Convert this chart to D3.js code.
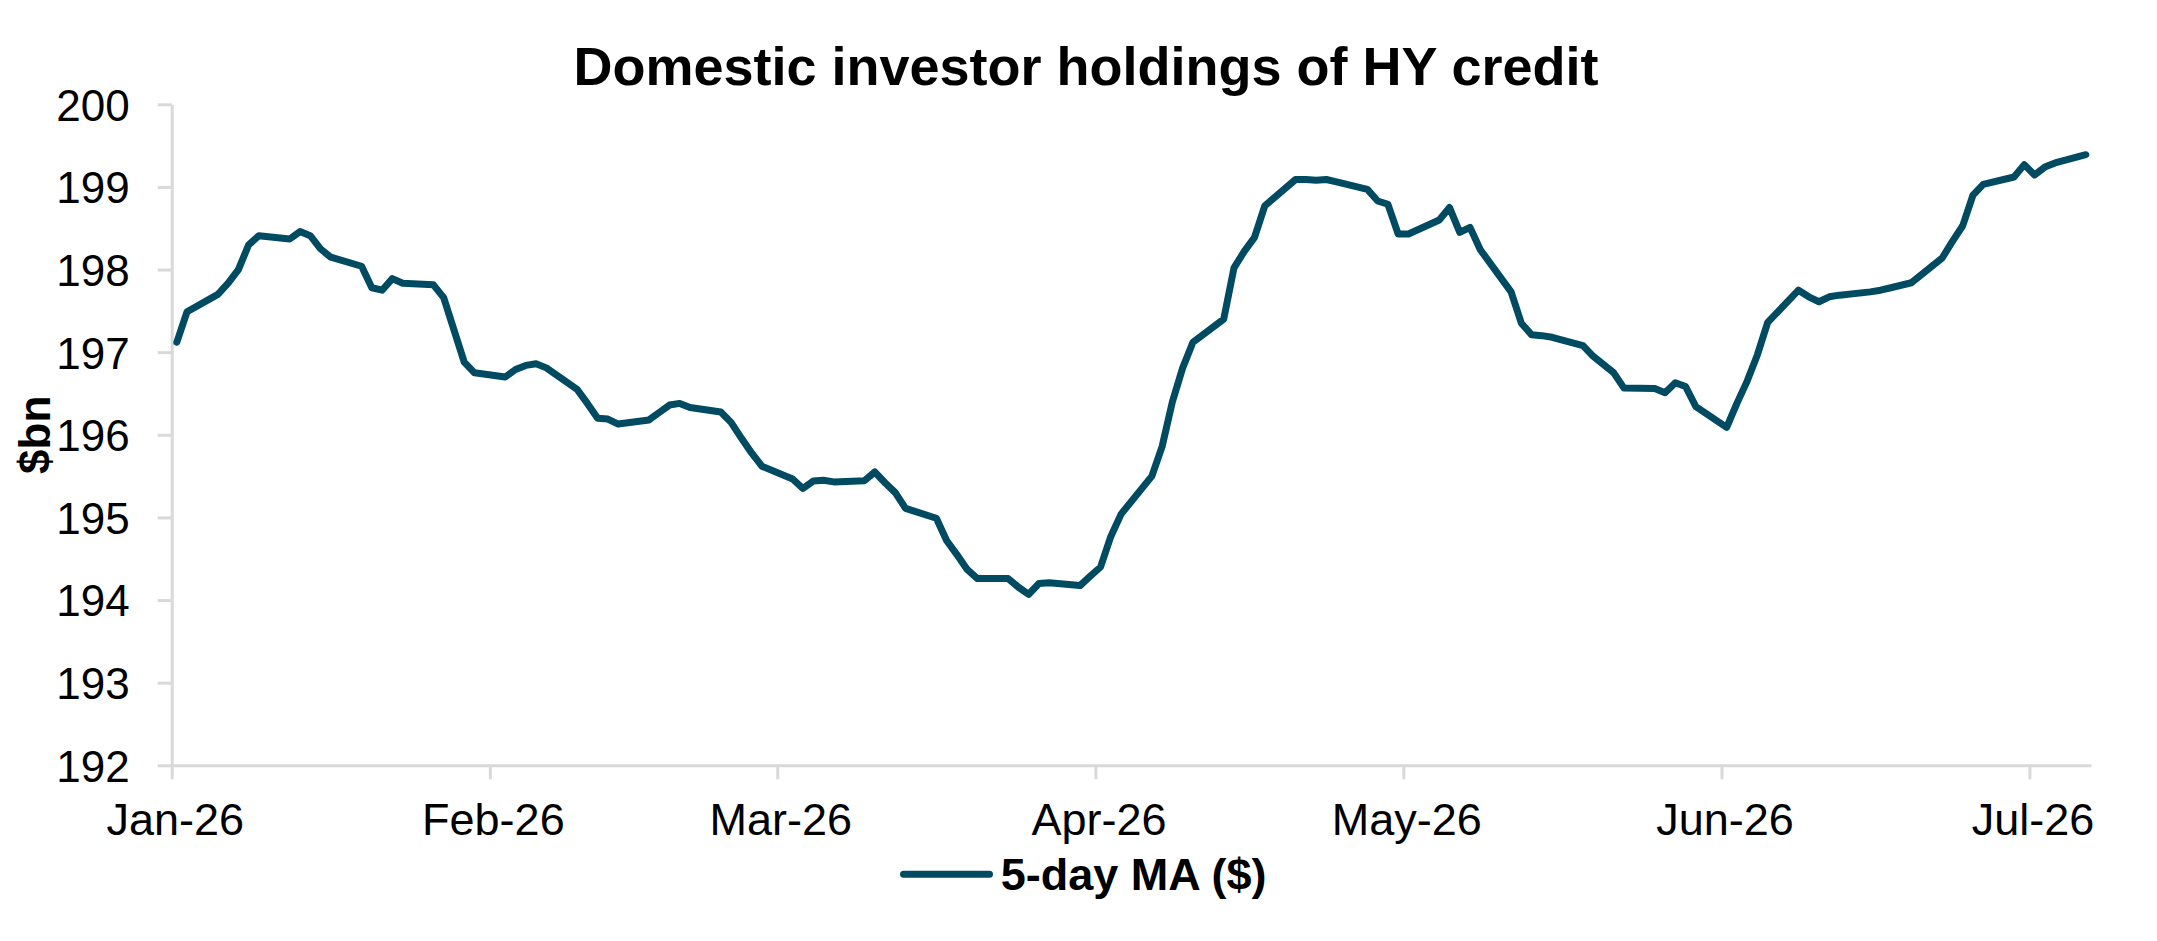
<!DOCTYPE html>
<html>
<head>
<meta charset="utf-8">
<script src="https://cdn.jsdelivr.net/npm/d3@7"></script>
<style>
  html, body { margin: 0; padding: 0; background: #ffffff; }
  svg { display: block; }
  text { font-family: "Liberation Sans", Arial, "Helvetica Neue", sans-serif; fill: #000; }
</style>
</head>
<body>
<svg id="chart" width="2157" height="941"></svg>
<script>
// ---------------- DATA ----------------
const chartTitle = "Domestic investor holdings of HY credit";
const yAxisTitle = "$bn";
const seriesName = "5-day MA ($)";

const dates = [
  "2026-01-01","2026-01-02","2026-01-05","2026-01-06","2026-01-07","2026-01-08","2026-01-09",
  "2026-01-12","2026-01-13","2026-01-14","2026-01-15","2026-01-16",
  "2026-01-19","2026-01-20","2026-01-21","2026-01-22","2026-01-23",
  "2026-01-26","2026-01-27","2026-01-28","2026-01-29","2026-01-30",
  "2026-02-02","2026-02-03","2026-02-04","2026-02-05","2026-02-06",
  "2026-02-09","2026-02-10","2026-02-11","2026-02-12","2026-02-13",
  "2026-02-16","2026-02-17","2026-02-18","2026-02-19","2026-02-20",
  "2026-02-23","2026-02-24","2026-02-25","2026-02-26","2026-02-27",
  "2026-03-02","2026-03-03","2026-03-04","2026-03-05","2026-03-06",
  "2026-03-09","2026-03-10","2026-03-11","2026-03-12","2026-03-13",
  "2026-03-16","2026-03-17","2026-03-18","2026-03-19","2026-03-20",
  "2026-03-23","2026-03-24","2026-03-25","2026-03-26","2026-03-27",
  "2026-03-30","2026-03-31","2026-04-01","2026-04-02","2026-04-03",
  "2026-04-06","2026-04-07","2026-04-08","2026-04-09","2026-04-10",
  "2026-04-13","2026-04-14","2026-04-15","2026-04-16","2026-04-17",
  "2026-04-20","2026-04-21","2026-04-22","2026-04-23","2026-04-24",
  "2026-04-27","2026-04-28","2026-04-29","2026-04-30","2026-05-01",
  "2026-05-04","2026-05-05","2026-05-06","2026-05-07","2026-05-08",
  "2026-05-11","2026-05-12","2026-05-13","2026-05-14","2026-05-15",
  "2026-05-18","2026-05-19","2026-05-20","2026-05-21","2026-05-22",
  "2026-05-25","2026-05-26","2026-05-27","2026-05-28","2026-05-29",
  "2026-06-01","2026-06-02","2026-06-03","2026-06-04","2026-06-05",
  "2026-06-08","2026-06-09","2026-06-10","2026-06-11","2026-06-12",
  "2026-06-15","2026-06-16","2026-06-17","2026-06-18","2026-06-19",
  "2026-06-22","2026-06-23","2026-06-24","2026-06-25","2026-06-26",
  "2026-06-29","2026-06-30","2026-07-01","2026-07-02","2026-07-03",
  "2026-07-06"
];

const values = [
  197.12,197.49,197.70,197.835,198.00,198.30,198.41,
  198.37,198.46,198.41,198.25,198.15,
  198.04,197.78,197.75,197.89,197.835,
  197.815,197.66,197.27,196.88,196.75,
  196.70,196.79,196.84,196.86,196.81,
  196.55,196.38,196.20,196.19,196.13,
  196.18,196.27,196.36,196.38,196.33,
  196.275,196.15,195.96,195.78,195.62,
  195.465,195.35,195.44,195.45,195.43,
  195.445,195.55,195.42,195.30,195.11,
  194.99,194.72,194.55,194.37,194.26,
  194.26,194.155,194.07,194.20,194.21,
  194.175,194.29,194.40,194.77,195.04,
  195.50,195.86,196.40,196.81,197.12,
  197.40,198.02,198.22,198.39,198.77,
  199.09,199.09,199.08,199.09,199.06,
  198.97,198.83,198.79,198.43,198.43,
  198.60,198.75,198.45,198.51,198.24,
  197.73,197.35,197.21,197.20,197.18,
  197.08,196.95,196.85,196.75,196.565,
  196.56,196.51,196.63,196.585,196.34,
  196.09,196.38,196.65,196.97,197.36,
  197.75,197.67,197.61,197.67,197.69,
  197.73,197.75,197.78,197.81,197.84,
  198.14,198.34,198.53,198.90,199.03,
  199.12,199.27,199.145,199.24,199.29,
  199.39
];

const yTicks = [192, 193, 194, 195, 196, 197, 198, 199, 200];
const xTicks = ["2026-01-01","2026-02-01","2026-03-01","2026-04-01","2026-05-01","2026-06-01","2026-07-01"];
const xDomain = ["2026-01-01", "2026-07-07"];
const yDomain = [192, 200];

// ---------------- LAYOUT ----------------
const plot = { left: 171.7, right: 2091, top: 104.3, bottom: 765.3 };
const lineColor = "#004b61";
const axisColor = "#d9d9d9";

const parse = d3.timeParse("%Y-%m-%d");
const svg = d3.select("#chart");

const x = d3.scaleTime()
  .domain(xDomain.map(parse))
  .range([plot.left, plot.right]);

const y = d3.scaleLinear()
  .domain(yDomain)
  .range([plot.bottom, plot.top]);

// data records (points centered in their day, as in a date axis)
const data = dates.map((d, i) => ({ date: d3.timeHour.offset(parse(d), 12), value: values[i] }));

// ---- Title ----
svg.append("text")
  .attr("x", 1086)
  .attr("y", 85)
  .attr("text-anchor", "middle")
  .style("font-size", "54px")
  .style("font-weight", "bold")
  .text(chartTitle);

// ---- Y axis ----
const yAxis = svg.append("g")
  .attr("transform", `translate(${plot.left},0)`)
  .call(d3.axisLeft(y).tickValues(yTicks).tickFormat(d3.format("d")).tickSize(14).tickSizeOuter(0).tickPadding(28));
yAxis.select(".domain").attr("stroke", axisColor).attr("stroke-width", 3);
yAxis.selectAll(".tick line").attr("stroke", axisColor).attr("stroke-width", 3);
yAxis.selectAll(".tick text")
  .attr("dy", "0.36em")
  .attr("fill", "#000")
  .style("font-size", "44px")
  .style("font-family", '"Liberation Sans", Arial, sans-serif');

// ---- X axis ----
const xAxis = svg.append("g")
  .attr("transform", `translate(0,${plot.bottom})`)
  .call(d3.axisBottom(x).tickValues(xTicks.map(parse)).tickFormat(d3.timeFormat("%b-%y")).tickSize(14).tickSizeOuter(0));
xAxis.select(".domain").attr("stroke", axisColor).attr("stroke-width", 3);
xAxis.selectAll(".tick line").attr("stroke", axisColor).attr("stroke-width", 3);
xAxis.selectAll(".tick text")
  .attr("y", 69.7)
  .attr("dy", 0)
  .attr("dx", 3)
  .attr("fill", "#000")
  .style("font-size", "45px")
  .style("font-family", '"Liberation Sans", Arial, sans-serif');

// ---- Y axis title ----
svg.append("text")
  .attr("transform", `translate(50,${(plot.top + plot.bottom) / 2}) rotate(-90)`)
  .attr("text-anchor", "middle")
  .style("font-size", "44px")
  .style("font-weight", "bold")
  .text(yAxisTitle);

// ---- Line ----
const line = d3.line()
  .x(d => x(d.date))
  .y(d => y(d.value));

svg.append("path")
  .datum(data)
  .attr("fill", "none")
  .attr("stroke", lineColor)
  .attr("stroke-width", 7)
  .attr("stroke-linejoin", "round")
  .attr("stroke-linecap", "round")
  .attr("d", line);

// ---- Legend ----
const legend = svg.append("g");
legend.append("line")
  .attr("x1", 903.5).attr("x2", 989.5)
  .attr("y1", 874.3).attr("y2", 874.3)
  .attr("stroke", lineColor)
  .attr("stroke-width", 7)
  .attr("stroke-linecap", "round");
legend.append("text")
  .attr("x", 1000.7)
  .attr("y", 890)
  .style("font-size", "45px")
  .style("font-weight", "bold")
  .text(seriesName);
</script>
</body>
</html>
